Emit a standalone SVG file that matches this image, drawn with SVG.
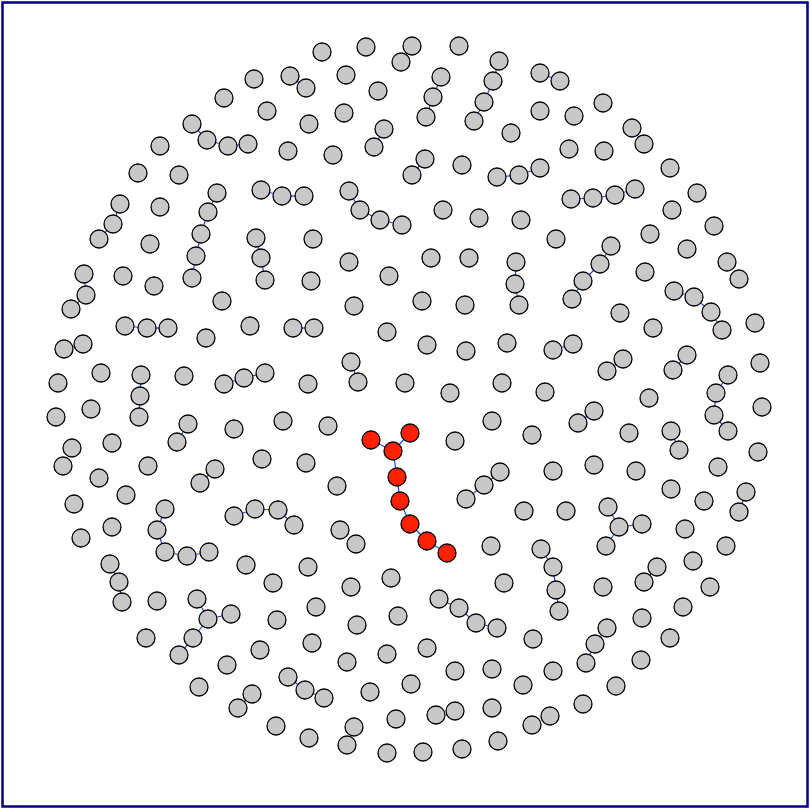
<svg xmlns="http://www.w3.org/2000/svg" width="810" height="809" viewBox="0 0 810 809">
<style>
.n circle{fill:#c8c8c8;stroke:#000;stroke-width:1.3}
.r circle{fill:#ff2200;stroke:#000;stroke-width:1.3}
#edges line{stroke:#2244ff;stroke-width:1.2}
</style>
<rect x="2.5" y="2.5" width="805" height="804" fill="#fff" stroke="#000080" stroke-width="2.5"/>
<g id="edges">
<line x1="401" y1="62" x2="412" y2="46"/><line x1="290" y1="76" x2="306" y2="88"/><line x1="441" y1="77" x2="433" y2="97"/><line x1="433" y1="97" x2="426" y2="117"/>
<line x1="499" y1="61" x2="493" y2="81"/><line x1="493" y1="81" x2="484" y2="102"/><line x1="484" y1="102" x2="474" y2="121"/><line x1="384" y1="129" x2="374" y2="147"/>
<line x1="425" y1="159" x2="412" y2="175"/><line x1="497" y1="177" x2="519" y2="175"/><line x1="519" y1="175" x2="540" y2="168"/><line x1="261" y1="190" x2="282" y2="196"/>
<line x1="282" y1="196" x2="304" y2="196"/><line x1="349" y1="191" x2="360" y2="210"/><line x1="360" y1="210" x2="380" y2="220"/><line x1="380" y1="220" x2="402" y2="225"/>
<line x1="540" y1="73" x2="560" y2="81"/><line x1="632" y1="128" x2="644" y2="144"/><line x1="571" y1="199" x2="593" y2="198"/><line x1="593" y1="198" x2="615" y2="195"/>
<line x1="615" y1="195" x2="635" y2="189"/><line x1="611" y1="246" x2="600" y2="264"/><line x1="600" y1="264" x2="583" y2="281"/><line x1="583" y1="281" x2="572" y2="299"/>
<line x1="192" y1="124" x2="207" y2="140"/><line x1="207" y1="140" x2="228" y2="146"/><line x1="228" y1="146" x2="248" y2="144"/><line x1="217" y1="193" x2="208" y2="212"/>
<line x1="208" y1="212" x2="201" y2="234"/><line x1="201" y1="234" x2="196" y2="256"/><line x1="196" y1="256" x2="192" y2="278"/><line x1="120" y1="204" x2="113" y2="224"/>
<line x1="113" y1="224" x2="99" y2="239"/><line x1="256" y1="238" x2="261" y2="258"/><line x1="261" y1="258" x2="265" y2="280"/><line x1="84" y1="274" x2="86" y2="295"/>
<line x1="86" y1="295" x2="71" y2="309"/><line x1="125" y1="326" x2="147" y2="328"/><line x1="147" y1="328" x2="168" y2="328"/><line x1="64" y1="349" x2="83" y2="344"/>
<line x1="141" y1="375" x2="140" y2="396"/><line x1="140" y1="396" x2="139" y2="417"/><line x1="224" y1="384" x2="244" y2="378"/><line x1="244" y1="378" x2="265" y2="373"/>
<line x1="188" y1="424" x2="177" y2="442"/><line x1="215" y1="469" x2="200" y2="483"/><line x1="165" y1="509" x2="157" y2="530"/><line x1="234" y1="516" x2="255" y2="509"/>
<line x1="255" y1="509" x2="278" y2="510"/><line x1="278" y1="510" x2="294" y2="525"/><line x1="516" y1="262" x2="515" y2="284"/><line x1="515" y1="284" x2="519" y2="305"/>
<line x1="293" y1="328" x2="314" y2="328"/><line x1="351" y1="362" x2="358" y2="382"/>
<line x1="371" y1="440" x2="393" y2="451"/><line x1="410" y1="433" x2="393" y2="451"/><line x1="393" y1="451" x2="397" y2="477"/><line x1="397" y1="477" x2="400" y2="501"/>
<line x1="400" y1="501" x2="410" y2="524"/><line x1="410" y1="524" x2="427" y2="541"/><line x1="427" y1="541" x2="447" y2="553"/>
<line x1="500" y1="472" x2="484" y2="485"/><line x1="484" y1="485" x2="466" y2="499"/><line x1="674" y1="291" x2="694" y2="297"/><line x1="694" y1="297" x2="711" y2="312"/>
<line x1="711" y1="312" x2="722" y2="330"/><line x1="553" y1="350" x2="573" y2="344"/><line x1="607" y1="371" x2="623" y2="359"/><line x1="687" y1="355" x2="673" y2="370"/>
<line x1="728" y1="375" x2="716" y2="393"/><line x1="716" y1="393" x2="714" y2="415"/><line x1="714" y1="415" x2="728" y2="431"/><line x1="594" y1="411" x2="578" y2="423"/>
<line x1="671" y1="431" x2="679" y2="450"/><line x1="608" y1="507" x2="619" y2="527"/><line x1="619" y1="527" x2="642" y2="524"/><line x1="619" y1="527" x2="606" y2="546"/>
<line x1="746" y1="492" x2="739" y2="512"/><line x1="165" y1="552" x2="187" y2="556"/><line x1="187" y1="556" x2="209" y2="552"/><line x1="157" y1="530" x2="165" y2="552"/>
<line x1="110" y1="564" x2="119" y2="582"/><line x1="119" y1="582" x2="122" y2="602"/><line x1="197" y1="599" x2="208" y2="619"/><line x1="208" y1="619" x2="231" y2="614"/>
<line x1="208" y1="619" x2="193" y2="638"/><line x1="193" y1="638" x2="179" y2="655"/><line x1="252" y1="694" x2="238" y2="708"/><line x1="439" y1="599" x2="459" y2="608"/>
<line x1="459" y1="608" x2="476" y2="623"/><line x1="476" y1="623" x2="497" y2="628"/><line x1="288" y1="677" x2="305" y2="690"/><line x1="305" y1="690" x2="324" y2="698"/>
<line x1="541" y1="549" x2="553" y2="567"/><line x1="553" y1="567" x2="556" y2="590"/><line x1="556" y1="590" x2="559" y2="611"/><line x1="607" y1="628" x2="595" y2="644"/>
<line x1="595" y1="644" x2="586" y2="663"/><line x1="657" y1="567" x2="644" y2="582"/>
</g>
<g id="n1" class="n"><circle cx="322" cy="52" r="9"/></g>
<g id="n2" class="n"><circle cx="366" cy="47" r="9"/></g>
<g id="n3" class="n"><circle cx="412" cy="46" r="9"/></g>
<g id="n4" class="n"><circle cx="401" cy="62" r="9"/></g>
<g id="n5" class="n"><circle cx="459" cy="46" r="9"/></g>
<g id="n6" class="n"><circle cx="499" cy="61" r="9"/></g>
<g id="n7" class="n"><circle cx="290" cy="76" r="9"/></g>
<g id="n8" class="n"><circle cx="306" cy="88" r="9"/></g>
<g id="n9" class="n"><circle cx="346" cy="75" r="9"/></g>
<g id="n10" class="n"><circle cx="378" cy="91" r="9"/></g>
<g id="n11" class="n"><circle cx="441" cy="77" r="9"/></g>
<g id="n12" class="n"><circle cx="433" cy="97" r="9"/></g>
<g id="n13" class="n"><circle cx="493" cy="81" r="9"/></g>
<g id="n14" class="n"><circle cx="540" cy="73" r="9"/></g>
<g id="n15" class="n"><circle cx="560" cy="81" r="9"/></g>
<g id="n16" class="n"><circle cx="254" cy="79" r="9"/></g>
<g id="n17" class="n"><circle cx="224" cy="98" r="9"/></g>
<g id="n18" class="n"><circle cx="426" cy="117" r="9"/></g>
<g id="n19" class="n"><circle cx="484" cy="102" r="9"/></g>
<g id="n20" class="n"><circle cx="474" cy="121" r="9"/></g>
<g id="n21" class="n"><circle cx="267" cy="111" r="9"/></g>
<g id="n22" class="n"><circle cx="344" cy="113" r="9"/></g>
<g id="n23" class="n"><circle cx="309" cy="124" r="9"/></g>
<g id="n24" class="n"><circle cx="384" cy="129" r="9"/></g>
<g id="n25" class="n"><circle cx="374" cy="147" r="9"/></g>
<g id="n26" class="n"><circle cx="288" cy="151" r="9"/></g>
<g id="n27" class="n"><circle cx="511" cy="133" r="9"/></g>
<g id="n28" class="n"><circle cx="540" cy="111" r="9"/></g>
<g id="n29" class="n"><circle cx="603" cy="103" r="9"/></g>
<g id="n30" class="n"><circle cx="574" cy="116" r="9"/></g>
<g id="n31" class="n"><circle cx="632" cy="128" r="9"/></g>
<g id="n32" class="n"><circle cx="644" cy="144" r="9"/></g>
<g id="n33" class="n"><circle cx="569" cy="149" r="9"/></g>
<g id="n34" class="n"><circle cx="604" cy="151" r="9"/></g>
<g id="n35" class="n"><circle cx="192" cy="124" r="9"/></g>
<g id="n36" class="n"><circle cx="207" cy="140" r="9"/></g>
<g id="n37" class="n"><circle cx="228" cy="146" r="9"/></g>
<g id="n38" class="n"><circle cx="248" cy="144" r="9"/></g>
<g id="n39" class="n"><circle cx="160" cy="146" r="9"/></g>
<g id="n40" class="n"><circle cx="333" cy="155" r="9"/></g>
<g id="n41" class="n"><circle cx="425" cy="159" r="9"/></g>
<g id="n42" class="n"><circle cx="412" cy="175" r="9"/></g>
<g id="n43" class="n"><circle cx="462" cy="165" r="9"/></g>
<g id="n44" class="n"><circle cx="497" cy="177" r="9"/></g>
<g id="n45" class="n"><circle cx="519" cy="175" r="9"/></g>
<g id="n46" class="n"><circle cx="540" cy="168" r="9"/></g>
<g id="n47" class="n"><circle cx="670" cy="168" r="9"/></g>
<g id="n48" class="n"><circle cx="138" cy="173" r="9"/></g>
<g id="n49" class="n"><circle cx="179" cy="175" r="9"/></g>
<g id="n50" class="n"><circle cx="217" cy="193" r="9"/></g>
<g id="n51" class="n"><circle cx="261" cy="190" r="9"/></g>
<g id="n52" class="n"><circle cx="282" cy="196" r="9"/></g>
<g id="n53" class="n"><circle cx="304" cy="196" r="9"/></g>
<g id="n54" class="n"><circle cx="349" cy="191" r="9"/></g>
<g id="n55" class="n"><circle cx="697" cy="193" r="9"/></g>
<g id="n56" class="n"><circle cx="571" cy="199" r="9"/></g>
<g id="n57" class="n"><circle cx="593" cy="198" r="9"/></g>
<g id="n58" class="n"><circle cx="615" cy="195" r="9"/></g>
<g id="n59" class="n"><circle cx="635" cy="189" r="9"/></g>
<g id="n60" class="n"><circle cx="360" cy="210" r="9"/></g>
<g id="n61" class="n"><circle cx="380" cy="220" r="9"/></g>
<g id="n62" class="n"><circle cx="402" cy="225" r="9"/></g>
<g id="n63" class="n"><circle cx="443" cy="210" r="9"/></g>
<g id="n64" class="n"><circle cx="479" cy="218" r="9"/></g>
<g id="n65" class="n"><circle cx="521" cy="220" r="9"/></g>
<g id="n66" class="n"><circle cx="672" cy="210" r="9"/></g>
<g id="n67" class="n"><circle cx="714" cy="226" r="9"/></g>
<g id="n68" class="n"><circle cx="120" cy="204" r="9"/></g>
<g id="n69" class="n"><circle cx="160" cy="207" r="9"/></g>
<g id="n70" class="n"><circle cx="208" cy="212" r="9"/></g>
<g id="n71" class="n"><circle cx="113" cy="224" r="9"/></g>
<g id="n72" class="n"><circle cx="99" cy="239" r="9"/></g>
<g id="n73" class="n"><circle cx="150" cy="244" r="9"/></g>
<g id="n74" class="n"><circle cx="201" cy="234" r="9"/></g>
<g id="n75" class="n"><circle cx="256" cy="238" r="9"/></g>
<g id="n76" class="n"><circle cx="313" cy="239" r="9"/></g>
<g id="n77" class="n"><circle cx="556" cy="239" r="9"/></g>
<g id="n78" class="n"><circle cx="611" cy="246" r="9"/></g>
<g id="n79" class="n"><circle cx="650" cy="234" r="9"/></g>
<g id="n80" class="n"><circle cx="687" cy="249" r="9"/></g>
<g id="n81" class="n"><circle cx="349" cy="262" r="9"/></g>
<g id="n82" class="n"><circle cx="389" cy="276" r="9"/></g>
<g id="n83" class="n"><circle cx="431" cy="258" r="9"/></g>
<g id="n84" class="n"><circle cx="469" cy="258" r="9"/></g>
<g id="n85" class="n"><circle cx="516" cy="262" r="9"/></g>
<g id="n86" class="n"><circle cx="600" cy="264" r="9"/></g>
<g id="n87" class="n"><circle cx="645" cy="272" r="9"/></g>
<g id="n88" class="n"><circle cx="727" cy="262" r="9"/></g>
<g id="n89" class="n"><circle cx="196" cy="256" r="9"/></g>
<g id="n90" class="n"><circle cx="261" cy="258" r="9"/></g>
<g id="n91" class="n"><circle cx="84" cy="274" r="9"/></g>
<g id="n92" class="n"><circle cx="123" cy="276" r="9"/></g>
<g id="n93" class="n"><circle cx="192" cy="278" r="9"/></g>
<g id="n94" class="n"><circle cx="154" cy="286" r="9"/></g>
<g id="n95" class="n"><circle cx="265" cy="280" r="9"/></g>
<g id="n96" class="n"><circle cx="86" cy="295" r="9"/></g>
<g id="n97" class="n"><circle cx="311" cy="281" r="9"/></g>
<g id="n98" class="n"><circle cx="515" cy="284" r="9"/></g>
<g id="n99" class="n"><circle cx="519" cy="305" r="9"/></g>
<g id="n100" class="n"><circle cx="583" cy="281" r="9"/></g>
<g id="n101" class="n"><circle cx="572" cy="299" r="9"/></g>
<g id="n102" class="n"><circle cx="739" cy="279" r="9"/></g>
<g id="n103" class="n"><circle cx="674" cy="291" r="9"/></g>
<g id="n104" class="n"><circle cx="694" cy="297" r="9"/></g>
<g id="n105" class="n"><circle cx="222" cy="301" r="9"/></g>
<g id="n106" class="n"><circle cx="71" cy="309" r="9"/></g>
<g id="n107" class="n"><circle cx="354" cy="306" r="9"/></g>
<g id="n108" class="n"><circle cx="422" cy="301" r="9"/></g>
<g id="n109" class="n"><circle cx="465" cy="305" r="9"/></g>
<g id="n110" class="n"><circle cx="711" cy="312" r="9"/></g>
<g id="n111" class="n"><circle cx="722" cy="330" r="9"/></g>
<g id="n112" class="n"><circle cx="755" cy="323" r="9"/></g>
<g id="n113" class="n"><circle cx="620" cy="313" r="9"/></g>
<g id="n114" class="n"><circle cx="653" cy="328" r="9"/></g>
<g id="n115" class="n"><circle cx="125" cy="326" r="9"/></g>
<g id="n116" class="n"><circle cx="147" cy="328" r="9"/></g>
<g id="n117" class="n"><circle cx="168" cy="328" r="9"/></g>
<g id="n118" class="n"><circle cx="250" cy="326" r="9"/></g>
<g id="n119" class="n"><circle cx="206" cy="338" r="9"/></g>
<g id="n120" class="n"><circle cx="293" cy="328" r="9"/></g>
<g id="n121" class="n"><circle cx="314" cy="328" r="9"/></g>
<g id="n122" class="n"><circle cx="387" cy="332" r="9"/></g>
<g id="n123" class="n"><circle cx="427" cy="345" r="9"/></g>
<g id="n124" class="n"><circle cx="466" cy="351" r="9"/></g>
<g id="n125" class="n"><circle cx="507" cy="343" r="9"/></g>
<g id="n126" class="n"><circle cx="553" cy="350" r="9"/></g>
<g id="n127" class="n"><circle cx="573" cy="344" r="9"/></g>
<g id="n128" class="n"><circle cx="64" cy="349" r="9"/></g>
<g id="n129" class="n"><circle cx="83" cy="344" r="9"/></g>
<g id="n130" class="n"><circle cx="351" cy="362" r="9"/></g>
<g id="n131" class="n"><circle cx="358" cy="382" r="9"/></g>
<g id="n132" class="n"><circle cx="308" cy="384" r="9"/></g>
<g id="n133" class="n"><circle cx="405" cy="383" r="9"/></g>
<g id="n134" class="n"><circle cx="450" cy="393" r="9"/></g>
<g id="n135" class="n"><circle cx="502" cy="383" r="9"/></g>
<g id="n136" class="n"><circle cx="545" cy="392" r="9"/></g>
<g id="n137" class="n"><circle cx="607" cy="371" r="9"/></g>
<g id="n138" class="n"><circle cx="623" cy="359" r="9"/></g>
<g id="n139" class="n"><circle cx="687" cy="355" r="9"/></g>
<g id="n140" class="n"><circle cx="673" cy="370" r="9"/></g>
<g id="n141" class="n"><circle cx="728" cy="375" r="9"/></g>
<g id="n142" class="n"><circle cx="760" cy="363" r="9"/></g>
<g id="n143" class="n"><circle cx="101" cy="373" r="9"/></g>
<g id="n144" class="n"><circle cx="141" cy="375" r="9"/></g>
<g id="n145" class="n"><circle cx="184" cy="376" r="9"/></g>
<g id="n146" class="n"><circle cx="58" cy="383" r="9"/></g>
<g id="n147" class="n"><circle cx="224" cy="384" r="9"/></g>
<g id="n148" class="n"><circle cx="244" cy="378" r="9"/></g>
<g id="n149" class="n"><circle cx="265" cy="373" r="9"/></g>
<g id="n150" class="n"><circle cx="140" cy="396" r="9"/></g>
<g id="n151" class="n"><circle cx="716" cy="393" r="9"/></g>
<g id="n152" class="n"><circle cx="649" cy="398" r="9"/></g>
<g id="n153" class="n"><circle cx="91" cy="409" r="9"/></g>
<g id="n154" class="n"><circle cx="56" cy="417" r="9"/></g>
<g id="n155" class="n"><circle cx="139" cy="417" r="9"/></g>
<g id="n156" class="n"><circle cx="188" cy="424" r="9"/></g>
<g id="n157" class="n"><circle cx="177" cy="442" r="9"/></g>
<g id="n158" class="n"><circle cx="234" cy="429" r="9"/></g>
<g id="n159" class="n"><circle cx="72" cy="448" r="9"/></g>
<g id="n160" class="n"><circle cx="112" cy="443" r="9"/></g>
<g id="n161" class="n"><circle cx="283" cy="421" r="9"/></g>
<g id="n162" class="n"><circle cx="328" cy="426" r="9"/></g>
<g id="n163" class="n"><circle cx="492" cy="421" r="9"/></g>
<g id="n164" class="n"><circle cx="532" cy="435" r="9"/></g>
<g id="n165" class="n"><circle cx="455" cy="441" r="9"/></g>
<g id="n166" class="n"><circle cx="594" cy="411" r="9"/></g>
<g id="n167" class="n"><circle cx="578" cy="423" r="9"/></g>
<g id="n168" class="n"><circle cx="714" cy="415" r="9"/></g>
<g id="n169" class="n"><circle cx="728" cy="431" r="9"/></g>
<g id="n170" class="n"><circle cx="629" cy="433" r="9"/></g>
<g id="n171" class="n"><circle cx="671" cy="431" r="9"/></g>
<g id="n172" class="n"><circle cx="679" cy="450" r="9"/></g>
<g id="n173" class="n"><circle cx="762" cy="407" r="9"/></g>
<g id="n174" class="n"><circle cx="758" cy="452" r="9"/></g>
<g id="r1" class="r"><circle cx="371" cy="440" r="9"/></g>
<g id="r2" class="r"><circle cx="410" cy="433" r="9"/></g>
<g id="r3" class="r"><circle cx="393" cy="451" r="9"/></g>
<g id="r4" class="r"><circle cx="397" cy="477" r="9"/></g>
<g id="r5" class="r"><circle cx="400" cy="501" r="9"/></g>
<g id="r6" class="r"><circle cx="410" cy="524" r="9"/></g>
<g id="r7" class="r"><circle cx="427" cy="541" r="9"/></g>
<g id="r8" class="r"><circle cx="447" cy="553" r="9"/></g>
<g id="n175" class="n"><circle cx="262" cy="459" r="9"/></g>
<g id="n176" class="n"><circle cx="306" cy="463" r="9"/></g>
<g id="n177" class="n"><circle cx="63" cy="466" r="9"/></g>
<g id="n178" class="n"><circle cx="148" cy="466" r="9"/></g>
<g id="n179" class="n"><circle cx="215" cy="469" r="9"/></g>
<g id="n180" class="n"><circle cx="200" cy="483" r="9"/></g>
<g id="n181" class="n"><circle cx="99" cy="478" r="9"/></g>
<g id="n182" class="n"><circle cx="126" cy="495" r="9"/></g>
<g id="n183" class="n"><circle cx="337" cy="486" r="9"/></g>
<g id="n184" class="n"><circle cx="500" cy="472" r="9"/></g>
<g id="n185" class="n"><circle cx="484" cy="485" r="9"/></g>
<g id="n186" class="n"><circle cx="466" cy="499" r="9"/></g>
<g id="n187" class="n"><circle cx="553" cy="471" r="9"/></g>
<g id="n188" class="n"><circle cx="594" cy="465" r="9"/></g>
<g id="n189" class="n"><circle cx="636" cy="471" r="9"/></g>
<g id="n190" class="n"><circle cx="718" cy="467" r="9"/></g>
<g id="n191" class="n"><circle cx="671" cy="489" r="9"/></g>
<g id="n192" class="n"><circle cx="704" cy="501" r="9"/></g>
<g id="n193" class="n"><circle cx="746" cy="492" r="9"/></g>
<g id="n194" class="n"><circle cx="74" cy="504" r="9"/></g>
<g id="n195" class="n"><circle cx="165" cy="509" r="9"/></g>
<g id="n196" class="n"><circle cx="234" cy="516" r="9"/></g>
<g id="n197" class="n"><circle cx="255" cy="509" r="9"/></g>
<g id="n198" class="n"><circle cx="278" cy="510" r="9"/></g>
<g id="n199" class="n"><circle cx="294" cy="525" r="9"/></g>
<g id="n200" class="n"><circle cx="340" cy="530" r="9"/></g>
<g id="n201" class="n"><circle cx="356" cy="544" r="9"/></g>
<g id="n202" class="n"><circle cx="112" cy="527" r="9"/></g>
<g id="n203" class="n"><circle cx="157" cy="530" r="9"/></g>
<g id="n204" class="n"><circle cx="81" cy="538" r="9"/></g>
<g id="n205" class="n"><circle cx="524" cy="511" r="9"/></g>
<g id="n206" class="n"><circle cx="566" cy="511" r="9"/></g>
<g id="n207" class="n"><circle cx="608" cy="507" r="9"/></g>
<g id="n208" class="n"><circle cx="619" cy="527" r="9"/></g>
<g id="n209" class="n"><circle cx="642" cy="524" r="9"/></g>
<g id="n210" class="n"><circle cx="685" cy="529" r="9"/></g>
<g id="n211" class="n"><circle cx="739" cy="512" r="9"/></g>
<g id="n212" class="n"><circle cx="606" cy="546" r="9"/></g>
<g id="n213" class="n"><circle cx="726" cy="546" r="9"/></g>
<g id="n214" class="n"><circle cx="491" cy="546" r="9"/></g>
<g id="n215" class="n"><circle cx="541" cy="549" r="9"/></g>
<g id="n216" class="n"><circle cx="165" cy="552" r="9"/></g>
<g id="n217" class="n"><circle cx="187" cy="556" r="9"/></g>
<g id="n218" class="n"><circle cx="209" cy="552" r="9"/></g>
<g id="n219" class="n"><circle cx="246" cy="565" r="9"/></g>
<g id="n220" class="n"><circle cx="110" cy="564" r="9"/></g>
<g id="n221" class="n"><circle cx="119" cy="582" r="9"/></g>
<g id="n222" class="n"><circle cx="122" cy="602" r="9"/></g>
<g id="n223" class="n"><circle cx="157" cy="601" r="9"/></g>
<g id="n224" class="n"><circle cx="197" cy="599" r="9"/></g>
<g id="n225" class="n"><circle cx="273" cy="583" r="9"/></g>
<g id="n226" class="n"><circle cx="308" cy="567" r="9"/></g>
<g id="n227" class="n"><circle cx="351" cy="587" r="9"/></g>
<g id="n228" class="n"><circle cx="391" cy="578" r="9"/></g>
<g id="n229" class="n"><circle cx="504" cy="583" r="9"/></g>
<g id="n230" class="n"><circle cx="439" cy="599" r="9"/></g>
<g id="n231" class="n"><circle cx="553" cy="567" r="9"/></g>
<g id="n232" class="n"><circle cx="556" cy="590" r="9"/></g>
<g id="n233" class="n"><circle cx="657" cy="567" r="9"/></g>
<g id="n234" class="n"><circle cx="693" cy="561" r="9"/></g>
<g id="n235" class="n"><circle cx="603" cy="587" r="9"/></g>
<g id="n236" class="n"><circle cx="644" cy="582" r="9"/></g>
<g id="n237" class="n"><circle cx="710" cy="587" r="9"/></g>
<g id="n238" class="n"><circle cx="208" cy="619" r="9"/></g>
<g id="n239" class="n"><circle cx="231" cy="614" r="9"/></g>
<g id="n240" class="n"><circle cx="277" cy="620" r="9"/></g>
<g id="n241" class="n"><circle cx="146" cy="638" r="9"/></g>
<g id="n242" class="n"><circle cx="193" cy="638" r="9"/></g>
<g id="n243" class="n"><circle cx="179" cy="655" r="9"/></g>
<g id="n244" class="n"><circle cx="260" cy="650" r="9"/></g>
<g id="n245" class="n"><circle cx="459" cy="608" r="9"/></g>
<g id="n246" class="n"><circle cx="476" cy="623" r="9"/></g>
<g id="n247" class="n"><circle cx="497" cy="628" r="9"/></g>
<g id="n248" class="n"><circle cx="316" cy="607" r="9"/></g>
<g id="n249" class="n"><circle cx="357" cy="625" r="9"/></g>
<g id="n250" class="n"><circle cx="398" cy="616" r="9"/></g>
<g id="n251" class="n"><circle cx="312" cy="643" r="9"/></g>
<g id="n252" class="n"><circle cx="533" cy="639" r="9"/></g>
<g id="n253" class="n"><circle cx="427" cy="648" r="9"/></g>
<g id="n254" class="n"><circle cx="559" cy="611" r="9"/></g>
<g id="n255" class="n"><circle cx="683" cy="607" r="9"/></g>
<g id="n256" class="n"><circle cx="642" cy="618" r="9"/></g>
<g id="n257" class="n"><circle cx="607" cy="628" r="9"/></g>
<g id="n258" class="n"><circle cx="595" cy="644" r="9"/></g>
<g id="n259" class="n"><circle cx="670" cy="638" r="9"/></g>
<g id="n260" class="n"><circle cx="227" cy="665" r="9"/></g>
<g id="n261" class="n"><circle cx="199" cy="687" r="9"/></g>
<g id="n262" class="n"><circle cx="252" cy="694" r="9"/></g>
<g id="n263" class="n"><circle cx="347" cy="662" r="9"/></g>
<g id="n264" class="n"><circle cx="387" cy="654" r="9"/></g>
<g id="n265" class="n"><circle cx="455" cy="671" r="9"/></g>
<g id="n266" class="n"><circle cx="492" cy="669" r="9"/></g>
<g id="n267" class="n"><circle cx="288" cy="677" r="9"/></g>
<g id="n268" class="n"><circle cx="305" cy="690" r="9"/></g>
<g id="n269" class="n"><circle cx="324" cy="698" r="9"/></g>
<g id="n270" class="n"><circle cx="370" cy="692" r="9"/></g>
<g id="n271" class="n"><circle cx="411" cy="684" r="9"/></g>
<g id="n272" class="n"><circle cx="523" cy="685" r="9"/></g>
<g id="n273" class="n"><circle cx="586" cy="663" r="9"/></g>
<g id="n274" class="n"><circle cx="641" cy="660" r="9"/></g>
<g id="n275" class="n"><circle cx="553" cy="671" r="9"/></g>
<g id="n276" class="n"><circle cx="616" cy="686" r="9"/></g>
<g id="n277" class="n"><circle cx="238" cy="708" r="9"/></g>
<g id="n278" class="n"><circle cx="276" cy="726" r="9"/></g>
<g id="n279" class="n"><circle cx="354" cy="727" r="9"/></g>
<g id="n280" class="n"><circle cx="309" cy="738" r="9"/></g>
<g id="n281" class="n"><circle cx="347" cy="745" r="9"/></g>
<g id="n282" class="n"><circle cx="396" cy="719" r="9"/></g>
<g id="n283" class="n"><circle cx="436" cy="715" r="9"/></g>
<g id="n284" class="n"><circle cx="455" cy="711" r="9"/></g>
<g id="n285" class="n"><circle cx="492" cy="708" r="9"/></g>
<g id="n286" class="n"><circle cx="532" cy="725" r="9"/></g>
<g id="n287" class="n"><circle cx="387" cy="753" r="9"/></g>
<g id="n288" class="n"><circle cx="423" cy="752" r="9"/></g>
<g id="n289" class="n"><circle cx="462" cy="749" r="9"/></g>
<g id="n290" class="n"><circle cx="498" cy="741" r="9"/></g>
<g id="n291" class="n"><circle cx="583" cy="704" r="9"/></g>
<g id="n292" class="n"><circle cx="550" cy="716" r="9"/></g>
</svg>
